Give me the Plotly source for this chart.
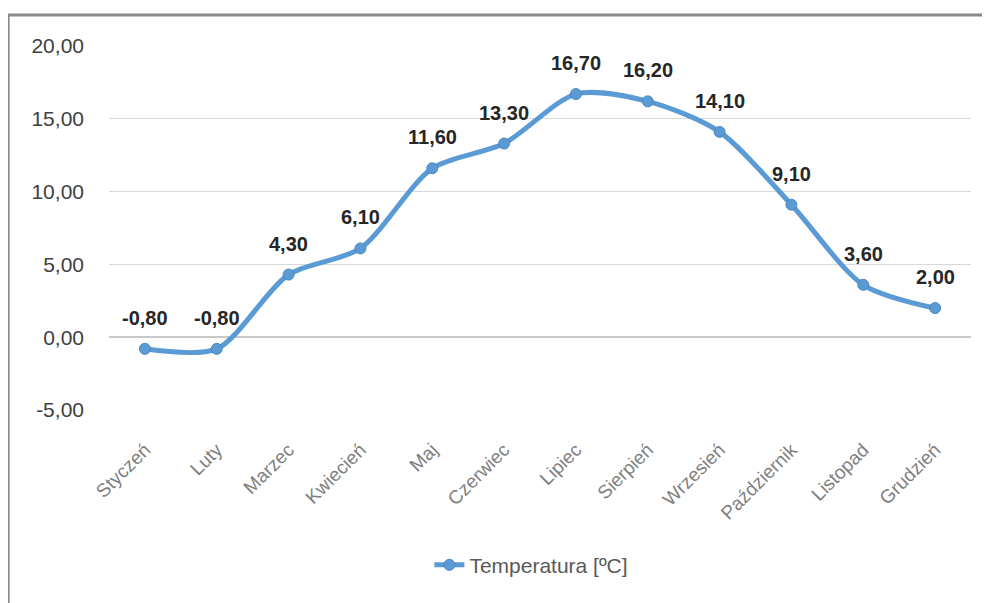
import plotly.graph_objects as go

months = [
    "Styczeń", "Luty", "Marzec", "Kwiecień", "Maj", "Czerwiec",
    "Lipiec", "Sierpień", "Wrzesień", "Październik", "Listopad", "Grudzień",
]
temperature = [-0.8, -0.8, 4.3, 6.1, 11.6, 13.3, 16.7, 16.2, 14.1, 9.1, 3.6, 2.0]
y_ticks = [-5, 0, 5, 10, 15, 20]
series_name = "Temperatura [ºC]"


def fmt(v):
    return f"{v:.2f}".replace(".", ",")


blue = "#5b9bd5"

fig = go.Figure()
fig.add_scatter(
    x=months,
    y=temperature,
    mode="lines+markers",
    name=series_name,
    line=dict(color=blue, width=5, shape="spline", smoothing=0.8),
    marker=dict(color=blue, size=11, line=dict(color="#4a87c0", width=1)),
    cliponaxis=False,
)

# data labels above points
for m, v in zip(months, temperature):
    fig.add_annotation(
        x=m, y=v, text=fmt(v), showarrow=False, yshift=31,
        font=dict(family="Liberation Sans", size=20, color="#262626", weight="bold"),
    )

# chart frame (Excel chart area border, cropped on right/bottom)
fig.add_shape(
    type="rect", xref="paper", yref="paper",
    x0=-0.117, x1=1.2, y0=-0.8, y1=1.085,
    line=dict(color="#8a8a8a", width=3), layer="below",
)

fig.update_layout(
    width=990,
    height=603,
    margin=dict(l=101, r=27, t=38, b=201),
    paper_bgcolor="white",
    plot_bgcolor="white",
    font=dict(family="Liberation Sans", color="#595959"),
    showlegend=True,
    legend=dict(
        orientation="h", x=0.49, xanchor="center", y=-0.37, yanchor="top",
        font=dict(size=21, color="#595959"),
    ),
    xaxis=dict(
        type="category",
        tickangle=-45,
        tickfont=dict(size=19, color="#7f7f7f"),
        showgrid=False,
        showline=False,
        ticks="",
        ticklabelstandoff=24,
        range=[-0.5, 11.5],
    ),
    yaxis=dict(
        range=[-5, 20],
        tickvals=y_ticks,
        ticktext=[fmt(t) for t in y_ticks],
        tickfont=dict(size=21, color="#404040"),
        gridcolor="#d9d9d9",
        gridwidth=1,
        zeroline=True,
        zerolinecolor="#c8c8c8",
        zerolinewidth=1.5,
        showline=False,
        ticks="",
        ticklabelstandoff=24,
    ),
)

fig.write_html("out.html")
